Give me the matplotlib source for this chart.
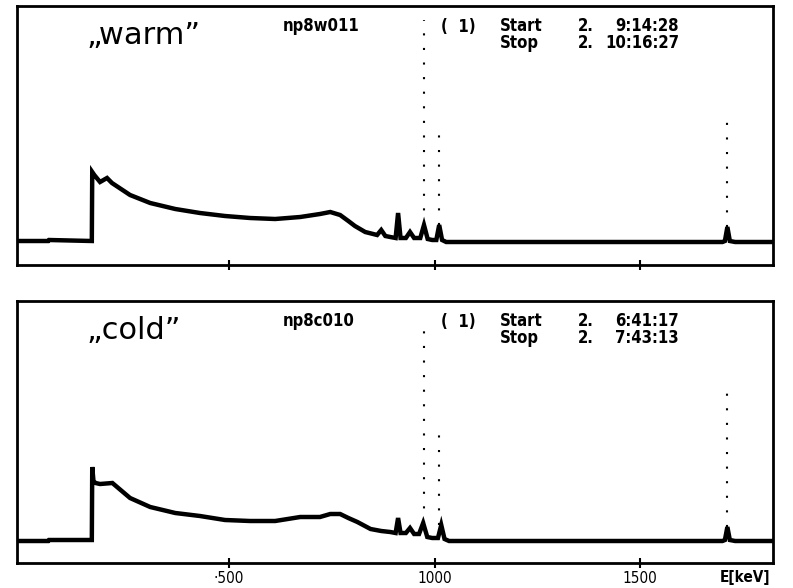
import matplotlib
matplotlib.use("Agg")
import matplotlib.pyplot as plt
from matplotlib import font_manager

# ---------------- data ----------------
# solid part of the spectra: energy [keV] and counts (arbitrary units)
energy_warm = [-16, 60, 62, 166, 167, 172, 186, 203, 215, 259, 308, 369, 429, 490, 551, 612,
               673, 721, 746, 770, 790, 806, 831, 860, 870, 880, 892, 905, 911, 917,
               930, 940, 950, 965, 974, 983, 994, 1004, 1011, 1018, 1028, 1700, 1706,
               1712, 1718, 1731, 1823]
counts_warm = [24, 24, 25, 24, 93, 90, 83, 87, 82, 70, 62, 56, 52, 49, 47, 46,
               48, 51, 53, 50, 44, 39, 33, 30, 35, 29, 28, 27, 52, 27,
               27, 33, 27, 27, 40, 26, 25, 25, 40, 25, 23, 23, 24,
               38, 24, 23, 23]

energy_cold = [-16, 60, 62, 166, 167, 170, 175, 186, 216, 259, 308, 369, 429, 490, 551, 612,
               673, 721, 746, 770, 790, 812, 844, 870, 892, 905, 911, 917, 930, 940,
               950, 962, 972, 982, 994, 1008, 1016, 1024, 1035, 1700, 1706, 1712, 1718,
               1731, 1823]
counts_cold = [22, 22, 23, 23, 96, 82, 80, 79, 80, 65, 56, 50, 47, 43, 42, 42,
               46, 46, 49, 49, 45, 41, 34, 32, 31, 30, 45, 30, 30, 35,
               29, 29, 40, 26, 25, 25, 38, 24, 22, 22, 23, 36, 23,
               22, 22]

# tall lines (drawn dotted by the plotter)
peak_energy = [974, 1011, 1712]
peak_top_warm = [245, 133, 143]
peak_top_cold = [241, 130, 173]
peak_base_warm = [40, 40, 38]
peak_base_cold = [40, 38, 36]

xticks = [500, 1000, 1500]
xticklabels = ["\u00b7500", "1000", "1500"]

panels = [
    dict(name="\u201ewarm\u201d", file="np8w011", start="9:14:28", stop="10:16:27",
         E=energy_warm, C=counts_warm, top=peak_top_warm, base=peak_base_warm),
    dict(name="\u201ecold\u201d", file="np8c010", start="6:41:17", stop="7:43:13",
         E=energy_cold, C=counts_cold, top=peak_top_cold, base=peak_base_cold),
]

# ---------------- figure ----------------
W, H = 793, 588
fig = plt.figure(figsize=(W / 100, H / 100), dpi=100)

installed = {f.name for f in font_manager.fontManager.ttflist}
narrow = "Liberation Sans Narrow" if "Liberation Sans Narrow" in installed else "DejaVu Sans"

def px(x, y):
    return x / W, 1 - y / H

boxes = [(17, 6, 773, 265), (17, 301, 773, 563)]
for i, (p, (l, t, r, b)) in enumerate(zip(panels, boxes)):
    ax = fig.add_axes([l / W, 1 - b / H, (r - l) / W, (b - t) / H])
    ax.plot(p["E"], p["C"], color="black", lw=3.2, solid_joinstyle="miter")
    for e, lo, hi in zip(peak_energy, p["base"], p["top"]):
        ax.vlines(e, lo, hi, colors="black", lw=1.5, linestyles=(0, (1, 6)))
    ax.set_xlim(-16, 1823)
    ax.set_ylim(0, b - t)
    ax.set_yticks([])
    ax.set_xticks(xticks)
    ax.tick_params(axis="x", direction="inout", length=7, width=1.5, pad=2)
    if i == 1:
        ax.set_xticklabels(xticklabels, fontsize=11, family=narrow, stretch="condensed")
    else:
        ax.set_xticklabels([])
    for s in ax.spines.values():
        s.set_linewidth(2.0)

    # texts
    oy = t - 6
    fig.text(*px(86, 44 + oy), p["name"], fontsize=22, family="DejaVu Sans",
             va="baseline", ha="left")
    kw = dict(fontsize=12, family=narrow, weight="bold", stretch="condensed",
              va="baseline", ha="left", linespacing=0.95)
    fig.text(*px(283, 31 + oy), p["file"], **kw)
    fig.text(*px(441, 32 + oy), "(  1)", **kw)
    fig.text(*px(500, 48 + oy), "Start\nStop", **kw)
    fig.text(*px(578, 48 + oy), "2.\n2.", **kw)
    fig.text(*px(679, 48 + oy), p["start"] + "\n" + p["stop"],
             **dict(kw, ha="right", multialignment="right"))

fig.text(*px(720, 582), "E[keV]", fontsize=11, family=narrow, weight="bold",
         stretch="condensed", va="baseline", ha="left")

fig.savefig("out.png", dpi=100, facecolor="white")
